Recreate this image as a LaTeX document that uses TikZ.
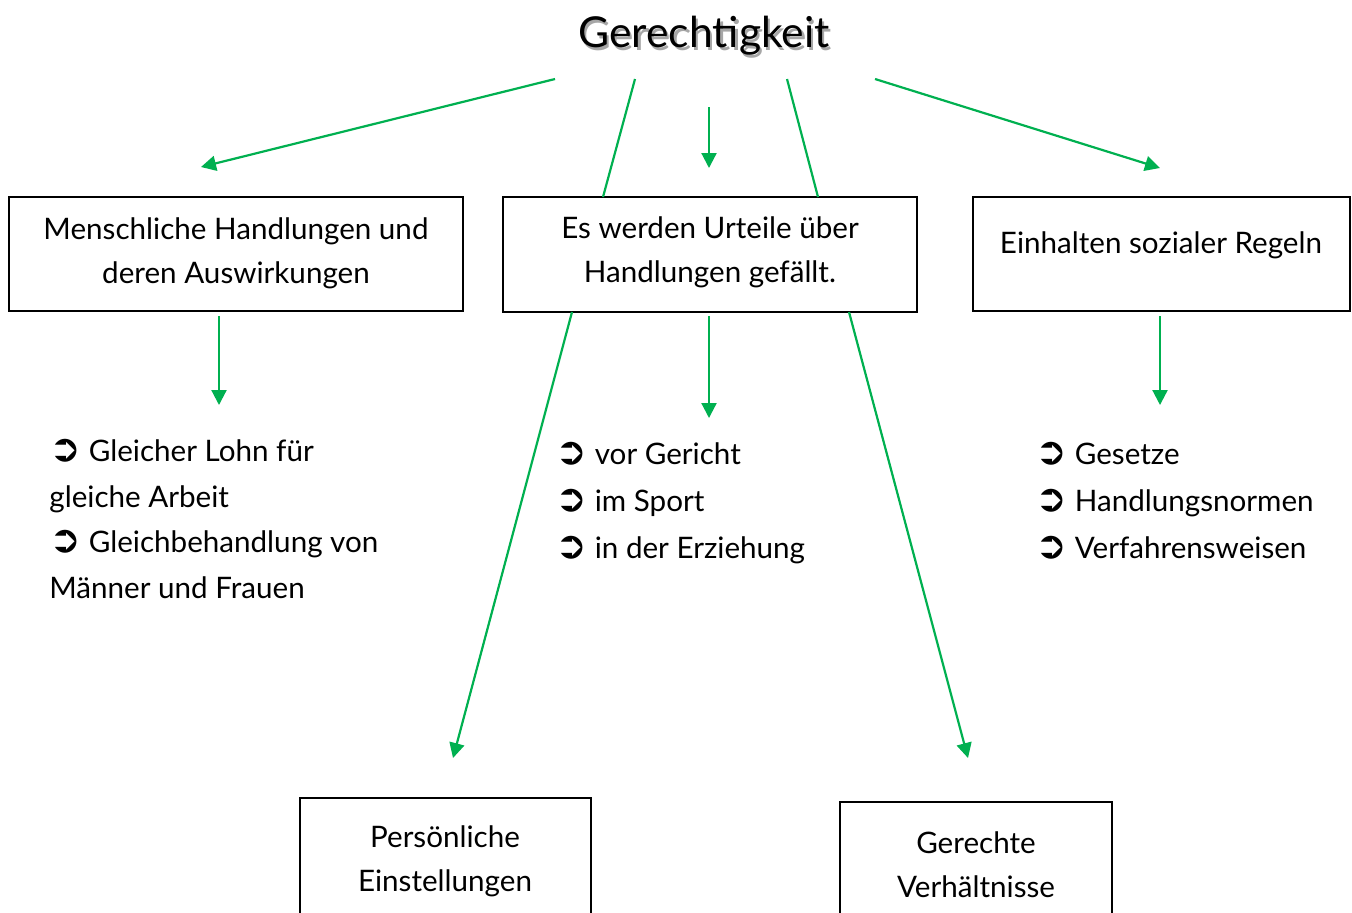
\documentclass[tikz,border=0pt]{standalone}
\usepackage{fontspec}
\setmainfont{Lato}
\newfontfamily\symfont{DejaVu Sans}
\usetikzlibrary{arrows.meta}
\definecolor{arrgreen}{HTML}{00B050}
\newcommand{\bul}{{\symfont\fontsize{19}{19}\selectfont\char"27B2}\ }
\tikzset{
  box/.style={draw=black, line width=0.8pt, inner sep=0pt},
  txt/.style={font=\fontsize{14.8}{22}\selectfont, align=center, inner sep=0pt},
  lst/.style={font=\fontsize{14.8}{23.5}\selectfont, align=left, inner sep=0pt, anchor=base west},
  conn/.style={draw=arrgreen, line width=1.1pt},
  arr/.style={conn, -{Triangle[length=7.5pt,width=7.5pt]}},
}
\begin{document}
\begin{tikzpicture}[x=0.5pt,y=-0.5pt]
\useasboundingbox (0,0) rectangle (1352,912);
% title
\node[font=\fontsize{21.3}{25}\selectfont, text=black!35, inner sep=0pt] (tshadow) at (706.5,38.5) {Gerechtigkeit};
\node[font=\fontsize{21.3}{25}\selectfont, inner sep=0pt] (title) at (704,36) {Gerechtigkeit};
% boxes
\draw[box] (9,197) rectangle (463,311);
\node[box, draw=none, minimum width=227pt, minimum height=57pt] (b1) at (236,254) {};
\draw[box] (503,197) rectangle (917,312);
\node[box, draw=none, minimum width=207pt, minimum height=57.5pt] (b2) at (710,254.5) {};
\draw[box] (973,197) rectangle (1350,311);
\node[box, draw=none, minimum width=188.5pt, minimum height=57pt] (b3) at (1161.5,254) {};
\draw[box] (300,798) rectangle (591,930);
\node[box, draw=none, minimum width=145.5pt, minimum height=57pt] (b4) at (445.5,855) {};
\draw[box] (840,802) rectangle (1112,930);
\node[box, draw=none, minimum width=136pt, minimum height=55pt] (b5) at (976,857) {};
% box texts
\node[txt] (t1) at (236,253) {Menschliche Handlungen und\\deren Auswirkungen};
\node[txt] (t2) at (710,252) {Es werden Urteile über\\Handlungen gefällt.};
\node[txt] (t3) at (1161,245) {Einhalten sozialer Regeln};
\node[txt] (t4) at (445,861) {Persönliche\\Einstellungen};
\node[txt] (t5) at (976,865) {Gerechte\\Verhältnisse};
% lists (base anchor = last line)
\node[lst, font=\fontsize{14.8}{22.7}\selectfont] (l1) at (49,598) {\bul Gleicher Lohn für\\gleiche Arbeit\\\bul Gleichbehandlung von\\Männer und Frauen};
\node[lst] (l2) at (555,558) {\bul vor Gericht\\\bul im Sport\\\bul in der Erziehung};
\node[lst] (l3) at (1035,558) {\bul Gesetze\\\bul Handlungsnormen\\\bul Verfahrensweisen};
% connector coordinates
\coordinate (s1) at (555,79);  \coordinate (e1) at (201,167);
\coordinate (s2) at (635,79);  \coordinate (e2) at (603,197);
\coordinate (s3) at (709,107); \coordinate (e3) at (709,168);
\coordinate (s4) at (787,79);  \coordinate (e4) at (818,197);
\coordinate (s5) at (875,79);  \coordinate (e5) at (1160,168);
\coordinate (s6) at (219,316); \coordinate (e6) at (219,405);
\coordinate (s7) at (709,316); \coordinate (e7) at (709,418);
\coordinate (s8) at (1160,316);\coordinate (e8) at (1160,405);
\coordinate (s9) at (572,312); \coordinate (e9) at (453,758);
\coordinate (s10) at (849,312);\coordinate (e10) at (968,758);
\draw[arr] (s1) -- (e1);
\draw[conn] (s2) -- (e2);
\draw[arr] (s3) -- (e3);
\draw[conn] (s4) -- (e4);
\draw[arr] (s5) -- (e5);
\draw[arr] (s6) -- (e6);
\draw[arr] (s7) -- (e7);
\draw[arr] (s8) -- (e8);
\draw[arr] (s9) -- (e9);
\draw[arr] (s10) -- (e10);
\end{tikzpicture}
\end{document}
